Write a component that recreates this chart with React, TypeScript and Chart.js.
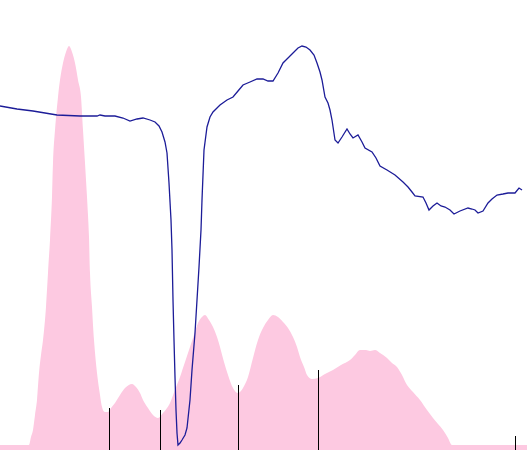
import React, { useEffect, useRef } from "react";
import { Chart, registerables } from "chart.js";

Chart.register(...registerables);

// Pink density profile: [x, height]
const densityX = [0, 29, 31, 33, 35, 37, 39, 41, 43, 46, 48, 50, 52, 53, 55, 58, 60, 63, 66, 69, 72, 75, 78, 81, 83, 85, 87, 89, 90, 92, 94, 97, 100, 102, 105, 108, 111, 115, 120, 125, 132, 136, 140, 143, 148, 153, 158, 163, 167, 170, 175, 180, 185, 190, 194, 198, 202, 205, 209, 213, 217, 220, 224, 228, 233, 238, 243, 248, 253, 258, 263, 268, 273, 278, 283, 288, 293, 297, 300, 304, 307, 312, 318, 325, 333, 341, 350, 355, 360, 366, 370, 375, 380, 387, 392, 397, 402, 407, 413, 420, 427, 433, 438, 443, 448, 452, 527];
const densityTop = [445, 445, 437, 430, 415, 400, 373, 355, 340, 307, 273, 240, 197, 163, 130, 97, 80, 63, 52, 46, 52, 63, 80, 97, 130, 163, 197, 237, 273, 307, 340, 373, 395, 407, 412, 412, 408, 403, 395, 388, 384, 387, 393, 400, 408, 415, 418, 413, 408, 403, 390, 377, 362, 347, 335, 323, 317, 315, 320, 327, 337, 347, 362, 375, 388, 393, 388, 377, 358, 340, 328, 320, 315, 317, 322, 328, 337, 347, 357, 367, 375, 379, 378, 374, 370, 365, 360, 355, 350, 350, 351, 350, 353, 358, 363, 367, 375, 385, 392, 400, 410, 418, 424, 430, 438, 445, 445];

// Blue signal line
const signalX = [0, 17, 33, 57, 80, 97, 100, 105, 115, 123, 130, 137, 143, 150, 155, 159, 162, 165, 167, 169, 171, 172, 173, 174, 175, 176, 177, 178, 180, 182, 185, 187, 190, 192, 195, 197, 199, 201, 202, 204, 207, 210, 213, 220, 227, 233, 238, 243, 250, 257, 263, 268, 273, 278, 283, 288, 293, 298, 302, 306, 310, 314, 317, 320, 322, 325, 328, 330, 332, 335, 338, 342, 347, 350, 353, 358, 362, 365, 372, 376, 380, 387, 395, 403, 408, 412, 415, 423, 426, 429, 433, 437, 441, 445, 450, 454, 460, 468, 472, 475, 478, 483, 488, 492, 497, 503, 508, 515, 519, 522];
const signalTop = [106, 109, 111, 115, 116, 116, 115, 116, 116, 118, 121, 119, 118, 120, 122, 126, 132, 142, 153, 183, 220, 250, 300, 340, 377, 410, 433, 445, 443, 440, 435, 428, 400, 370, 333, 300, 267, 230, 200, 150, 127, 117, 112, 105, 100, 97, 91, 85, 82, 79, 79, 81, 81, 73, 63, 58, 53, 48, 46, 47, 50, 55, 63, 72, 80, 97, 103, 110, 120, 140, 143, 137, 129, 134, 138, 135, 142, 148, 152, 158, 166, 170, 175, 182, 187, 192, 196, 197, 203, 210, 206, 203, 206, 207, 210, 214, 211, 208, 209, 210, 213, 211, 203, 199, 195, 194, 193, 193, 188, 190];

// Rug markers
const markerX = [109.5, 160.5, 238.5, 318.5, 515.5];
const markerTop = [408, 410, 385, 370, 436];

const H = 450;
const W = 527;

export default function App() {
  const ref = useRef<HTMLCanvasElement | null>(null);
  useEffect(() => {
    if (!ref.current) return;
    const density = densityX.map((x, i) => ({ x, y: H - densityTop[i] }));
    const signal = signalX.map((x, i) => ({ x, y: H - signalTop[i] }));
    const markers = markerX.map((x, i) => ({
      type: "line" as const,
      data: [
        { x, y: 0 },
        { x, y: H - markerTop[i] },
      ],
      borderColor: "#000000",
      borderWidth: 1,
      pointRadius: 0,
      fill: false,
      order: 1,
    }));
    const chart = new Chart(ref.current, {
      type: "line",
      data: {
        datasets: [
          {
            data: signal,
            borderColor: "#1c1c98",
            borderWidth: 1.3,
            pointRadius: 0,
            fill: false,
            tension: 0,
            order: 0,
          },
          ...markers,
          {
            data: density,
            borderColor: "rgba(0,0,0,0)",
            borderWidth: 0,
            backgroundColor: "rgb(253,201,225)",
            pointRadius: 0,
            fill: "origin",
            cubicInterpolationMode: "monotone",
            order: 2,
          },
        ],
      },
      options: {
        animation: false,
        responsive: true,
        maintainAspectRatio: false,
        layout: { padding: 0 },
        plugins: { legend: { display: false }, tooltip: { enabled: false } },
        scales: {
          x: { type: "linear", min: 0, max: W, display: false },
          y: { type: "linear", min: 0, max: H, display: false },
        },
      },
    });
    return () => chart.destroy();
  }, []);
  return (
    <div style={{ position: "fixed", left: 0, top: 0, width: W, height: H, background: "#fff" }}>
      <canvas ref={ref} />
    </div>
  );
}
